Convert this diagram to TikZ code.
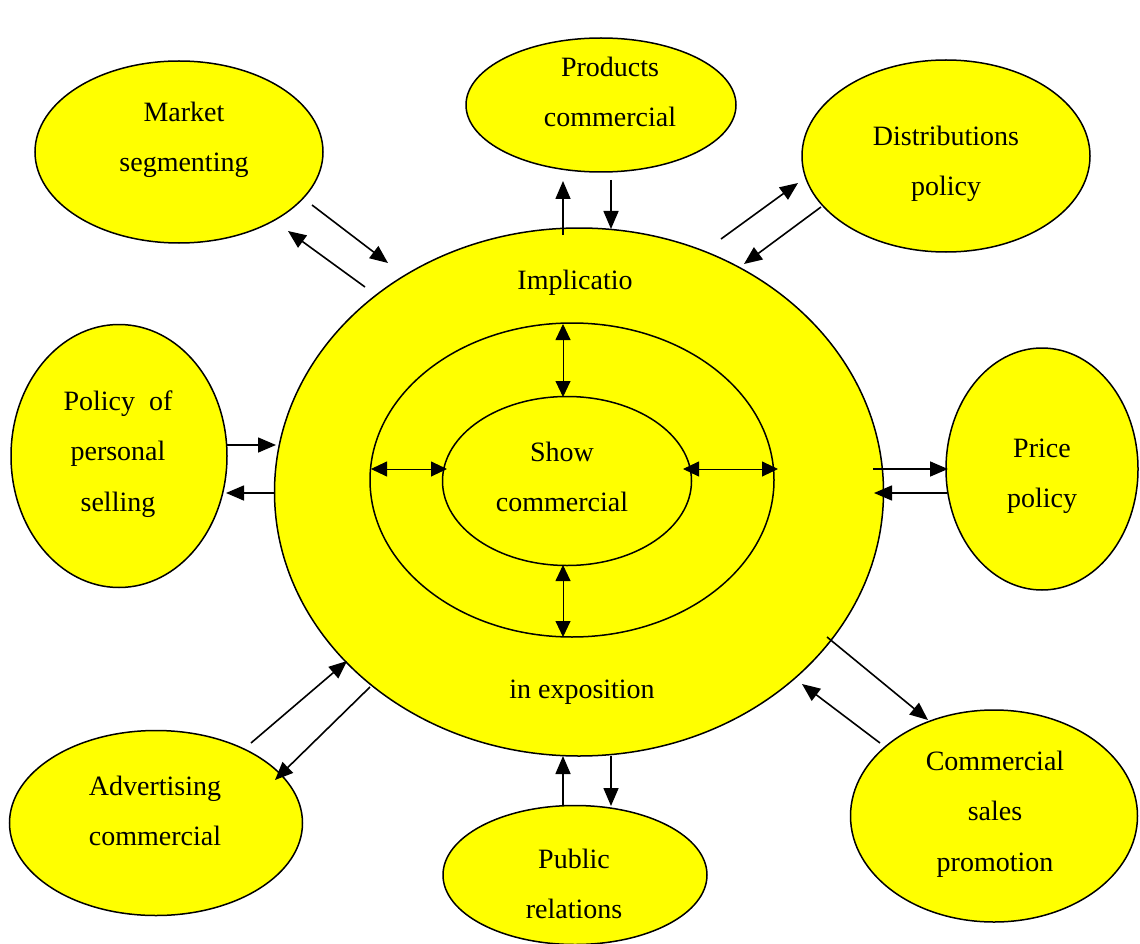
\documentclass[tikz,border=0pt]{standalone}
\usepackage{fontspec}
\setmainfont{Liberation Serif}
\usetikzlibrary{shapes.geometric,arrows.meta}
\begin{document}
\begin{tikzpicture}[x=1pt,y=-1pt,
  blob/.style={ellipse,draw=black,line width=1.5pt,fill=yellow,inner sep=0pt},
  ring/.style={ellipse,draw=black,line width=1.5pt,inner sep=0pt},
  txt/.style={align=center,inner sep=0pt,font=\fontsize{28}{50.5}\selectfont},
  link/.style={line width=1.6pt,-{Triangle[length=18pt,width=15pt]}},
  gap/.style={line width=0.9pt,{Triangle[length=16pt,width=15pt]}-{Triangle[length=16pt,width=15pt]}}]
\useasboundingbox (0,0) rectangle (1140,944);
\definecolor{yellow}{RGB}{255,255,0}

% satellite topics
\node[blob,minimum width=288pt,minimum height=182pt] (seg) at (179,152) {};
\node[blob,minimum width=270pt,minimum height=134pt] (prod) at (601,105) {};
\node[blob,minimum width=288pt,minimum height=192pt] (dist) at (946,156) {};
\node[blob,minimum width=216pt,minimum height=263pt] (pers) at (119,456) {};
\node[blob,minimum width=192pt,minimum height=242pt] (price) at (1042,469) {};
\node[blob,minimum width=293pt,minimum height=185pt] (adv) at (156,823) {};
\node[blob,minimum width=264pt,minimum height=139pt] (pub) at (575,875) {};
\node[blob,minimum width=287pt,minimum height=212pt] (promo) at (994,816) {};

% central exhibition rings
\node[blob,minimum width=609pt,minimum height=528pt] (impl) at (579,492) {};
\node[ring,minimum width=404pt,minimum height=314pt] (mid) at (572,480) {};
\node[ring,minimum width=249pt,minimum height=169pt] (show) at (567,481) {};

% labels
\node[txt] (tseg) at (184,140) {Market\\segmenting};
\node[txt] (tprod) at (610,92) {Products\\commercial};
\node[txt] (tdist) at (946,164) {Distributions\\policy};
\node[txt] (tpers) at (118,454) {Policy\ \ of\\personal\\selling};
\node[txt] (tprice) at (1042,476) {Price\\policy};
\node[txt] (tadv) at (155,811) {Advertising\\commercial};
\node[txt] (tpub) at (574,884) {Public\\relations};
\node[txt] (tpromo) at (995,814) {Commercial\\sales\\promotion};
\node[txt] (timpl) at (575,283) {Implicatio};
\node[txt] (texpo) at (582,692) {in exposition};
\node[txt] (tshow) at (562,477) {Show\\commercial};

% arrow end points
\coordinate (a1s) at (312,205); \coordinate (a1e) at (388,263);
\coordinate (a2s) at (365,287); \coordinate (a2e) at (288,231);
\coordinate (b1s) at (563,235); \coordinate (b1e) at (563,181);
\coordinate (b2s) at (611,180); \coordinate (b2e) at (611,229);
\coordinate (c1s) at (721,239); \coordinate (c1e) at (798,183);
\coordinate (c2s) at (821,207); \coordinate (c2e) at (744,264);
\coordinate (d1s) at (226,445); \coordinate (d1e) at (276,445);
\coordinate (d2s) at (275,493); \coordinate (d2e) at (226,493);
\coordinate (e1s) at (873,469); \coordinate (e1e) at (948,469);
\coordinate (e2s) at (947,493); \coordinate (e2e) at (874,493);
\coordinate (f1s) at (251,743); \coordinate (f1e) at (347,661);
\coordinate (f2s) at (370,687); \coordinate (f2e) at (275,780);
\coordinate (g1s) at (827,637); \coordinate (g1e) at (928,720);
\coordinate (g2s) at (880,743); \coordinate (g2e) at (802,684);
\coordinate (h1s) at (563,805); \coordinate (h1e) at (563,756);
\coordinate (h2s) at (611,756); \coordinate (h2e) at (611,806);

\draw[link] (a1s) -- (a1e);
\draw[link] (a2s) -- (a2e);
\draw[link] (b1s) -- (b1e);
\draw[link] (b2s) -- (b2e);
\draw[link] (c1s) -- (c1e);
\draw[link] (c2s) -- (c2e);
\draw[link] (d1s) -- (d1e);
\draw[link] (d2s) -- (d2e);
\draw[link] (e1s) -- (e1e);
\draw[link] (e2s) -- (e2e);
\draw[link] (f1s) -- (f1e);
\draw[link] (f2s) -- (f2e);
\draw[link] (g1s) -- (g1e);
\draw[link] (g2s) -- (g2e);
\draw[link] (h1s) -- (h1e);
\draw[link] (h2s) -- (h2e);

% double arrows between the rings
\coordinate (i1s) at (563,324); \coordinate (i1e) at (563,397);
\coordinate (i2s) at (563,565); \coordinate (i2e) at (563,637);
\coordinate (i3s) at (371,469); \coordinate (i3e) at (447,469);
\coordinate (i4s) at (683,469); \coordinate (i4e) at (778,469);
\draw[gap] (i1s) -- (i1e);
\draw[gap] (i2s) -- (i2e);
\draw[gap] (i3s) -- (i3e);
\draw[gap] (i4s) -- (i4e);
\end{tikzpicture}
\end{document}
